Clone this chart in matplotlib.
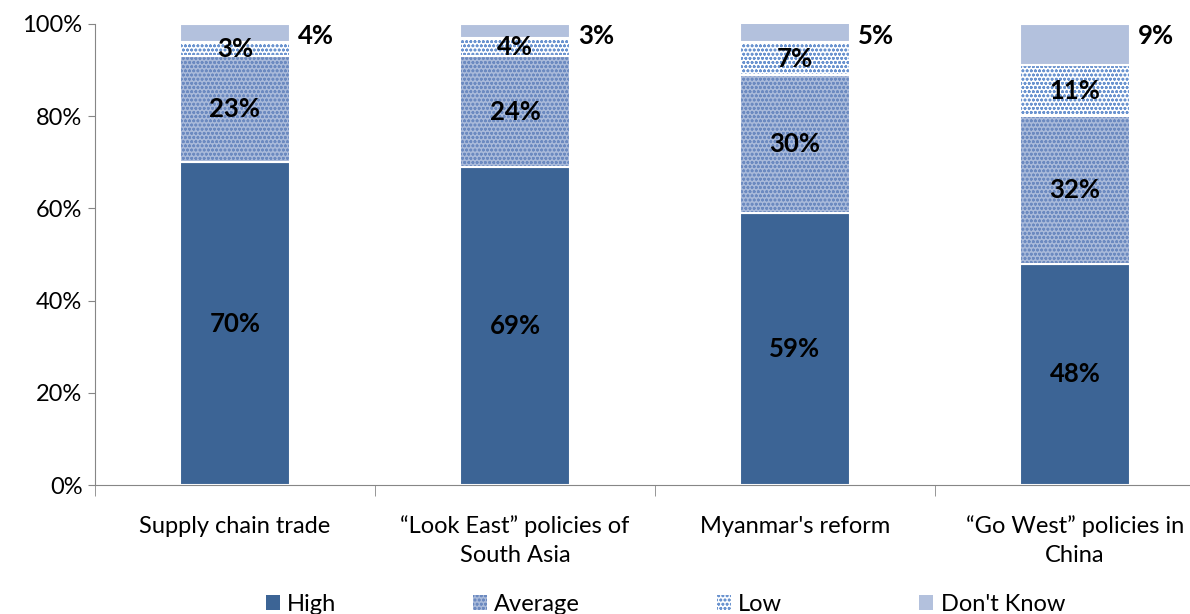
import matplotlib
matplotlib.use('agg')
import matplotlib.pyplot as plt
import numpy as np

categories = ['Supply chain trade', '\u201cLook East\u201d policies of\nSouth Asia',
              "Myanmar's reform", '\u201cGo West\u201d policies in\nChina']
high = [70, 69, 59, 48]
average = [23, 24, 30, 32]
low = [3, 4, 7, 11]
dont_know = [4, 3, 5, 9]
series_names = ['High', 'Average', 'Low', "Don't Know"]
yticks = [0, 20, 40, 60, 80, 100]

plt.rcParams['font.family'] = ['Lato', 'DejaVu Sans']
plt.rcParams['hatch.linewidth'] = 0.8

fig = plt.figure(figsize=(11.9, 6.14), dpi=100)
ax = fig.add_axes([95/1190, 1-485/614, 1120/1190, 461/614])

x = np.arange(len(categories))
w = 0.39
# face, hatch colour, hatch
styles = [('#3C6495', None, ''),
          ('#A9BADA', '#6C8AC0', 'oooo'),
          ('#FFFFFF', '#6A93CF', 'oooo'),
          ('#B3C1DD', None, '')]
series = [high, average, low, dont_know]

bottom = np.zeros(len(x))
handles = []
for vals, (fc, hc, hatch), name in zip(series, styles, series_names):
    vals = np.array(vals, dtype=float)
    if hatch:
        b = ax.bar(x, vals, w, bottom=bottom, color=fc, edgecolor=hc, hatch=hatch, linewidth=0)
    else:
        b = ax.bar(x, vals, w, bottom=bottom, color=fc, linewidth=0)
    # white outline on top
    ax.bar(x, vals, w, bottom=bottom, fill=False, edgecolor='white', linewidth=1.5)
    handles.append(b)
    bottom = bottom + vals

# labels
cum = np.zeros(len(x))
for k, vals in enumerate(series):
    for i, v in enumerate(vals):
        if k < 3:
            ax.text(x[i], cum[i] + v/2, '%d%%' % v, ha='center', va='center',
                    fontsize=18.5, fontweight='bold', color='black')
        else:
            ax.text(x[i] + w/2 + 0.03, 97.5, '%d%%' % v, ha='left', va='center',
                    fontsize=18.5, fontweight='bold', color='black', clip_on=False)
    cum = cum + np.array(vals)

ax.set_ylim(0, 100)
ax.set_xlim(-0.5, 3.5)
ax.set_yticks(yticks)
ax.set_yticklabels(['%d%%' % t for t in yticks], fontsize=17)
ax.set_xticks(x)
ax.set_xticklabels(categories, fontsize=17, linespacing=1.45)
ax.set_xticks(np.arange(-0.5, 4, 1), minor=True)
ax.tick_params(axis='x', which='major', length=0, pad=22)
ax.tick_params(axis='x', which='minor', length=8, color='#868686')
ax.tick_params(axis='y', length=5, color='#868686', pad=4)
for s in ['top', 'right']:
    ax.spines[s].set_visible(False)
for s in ['left', 'bottom']:
    ax.spines[s].set_color('#868686')

fig.legend(handles, series_names, loc='center', bbox_to_anchor=(0.559, 0.015), ncol=4,
           frameon=False, fontsize=17, handlelength=0.6, handleheight=0.6,
           handletextpad=0.3, columnspacing=5.8)

fig.savefig('out.png', dpi=100)
